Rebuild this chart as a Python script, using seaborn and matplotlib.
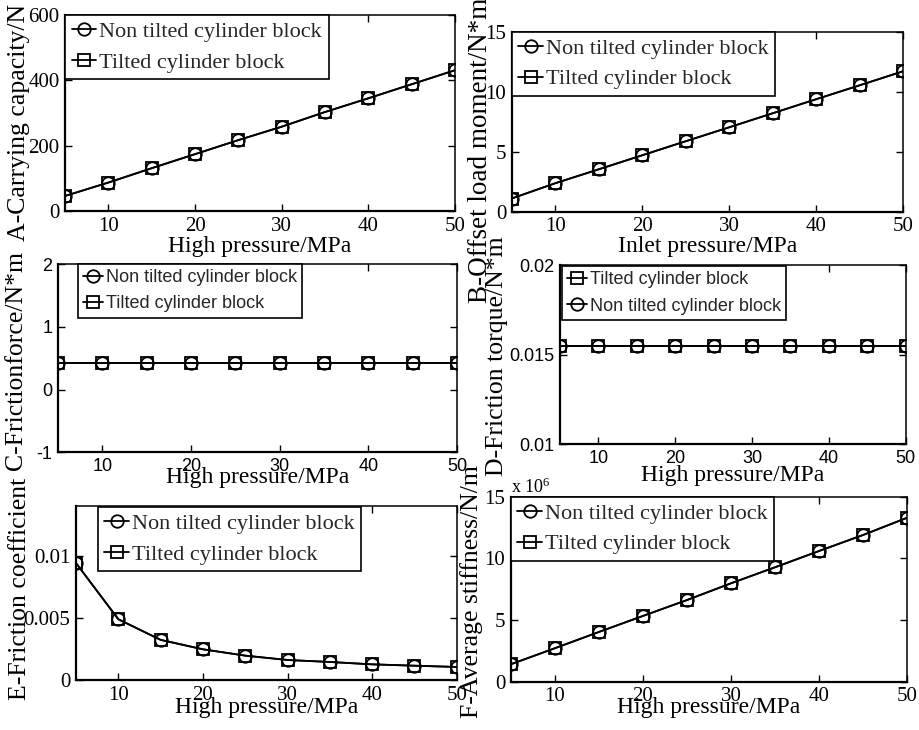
import numpy as np
import pandas as pd
import matplotlib
matplotlib.use("Agg")
import matplotlib.pyplot as plt
import matplotlib.transforms as mtransforms
from matplotlib.ticker import FuncFormatter, FixedLocator
import seaborn as sns

# ---- data -------------------------------------------------------------
pressure = [5, 10, 15, 20, 25, 30, 35, 40, 45, 50]  # MPa

capacity_non_tilted = [46, 87, 131, 174, 217, 258, 303, 345, 388, 431]
capacity_tilted = [46, 87, 131, 174, 217, 258, 303, 345, 388, 431]

moment_non_tilted = [1.10, 2.37, 3.53, 4.70, 5.87, 7.03, 8.20, 9.37, 10.53, 11.70]
moment_tilted = [1.10, 2.37, 3.53, 4.70, 5.87, 7.03, 8.20, 9.37, 10.53, 11.70]

friction_force_non_tilted = [0.425, 0.425, 0.425, 0.425, 0.425, 0.425, 0.425, 0.425, 0.425, 0.425]
friction_force_tilted = [0.425, 0.425, 0.425, 0.425, 0.425, 0.425, 0.425, 0.425, 0.425, 0.425]

friction_torque_non_tilted = [0.0155, 0.0155, 0.0155, 0.0155, 0.0155, 0.0155, 0.0155, 0.0155, 0.0155, 0.0155]
friction_torque_tilted = [0.0155, 0.0155, 0.0155, 0.0155, 0.0155, 0.0155, 0.0155, 0.0155, 0.0155, 0.0155]

friction_coef_non_tilted = [0.00941, 0.00489, 0.00323, 0.00247, 0.00196, 0.00161, 0.00145, 0.00126, 0.00115, 0.00105]
friction_coef_tilted = [0.00941, 0.00489, 0.00323, 0.00247, 0.00196, 0.00161, 0.00145, 0.00126, 0.00115, 0.00105]

stiffness_non_tilted = [1.41e6, 2.71e6, 4.03e6, 5.33e6, 6.62e6, 7.98e6, 9.28e6, 10.60e6, 11.90e6, 13.30e6]
stiffness_tilted = [1.41e6, 2.71e6, 4.03e6, 5.33e6, 6.62e6, 7.98e6, 9.28e6, 10.60e6, 11.90e6, 13.30e6]

label_non = "Non tilted cylinder block"
label_tilt = "Tilted cylinder block"

# ---- style ------------------------------------------------------------
sns.set_theme(style="ticks")
SERIF = ["Liberation Serif", "DejaVu Serif"]
SANS = ["Liberation Sans", "DejaVu Sans"]
plt.rcParams["font.family"] = SERIF
plt.rcParams["mathtext.fontset"] = "custom"
plt.rcParams["mathtext.rm"] = "Liberation Serif"
plt.rcParams["mathtext.it"] = "Liberation Serif:italic"

W, H = 919, 730
fig = plt.figure(figsize=(W / 100, H / 100), dpi=100)
fig.patch.set_facecolor("white")


def add_axes_px(left, top, right, bottom):
    return fig.add_axes([left / W, 1 - bottom / H, (right - left) / W, (bottom - top) / H])


def draw_series(ax, y, marker, label):
    df = pd.DataFrame({"p": pressure, "v": y})
    sns.lineplot(data=df, x="p", y="v", ax=ax, color="black", linewidth=1.3,
                 marker=marker, markersize=9, markerfacecolor="none",
                 markeredgecolor="black", markeredgewidth=1.3, label=label,
                 legend=False)


def style_axes(ax, ylim, yticks, yfmt, tickfamily, ticksize):
    ax.set_xlim(5, 50)
    ax.set_ylim(*ylim)
    ax.xaxis.set_major_locator(FixedLocator([10, 20, 30, 40, 50]))
    ax.yaxis.set_major_locator(FixedLocator(yticks))
    ax.xaxis.set_major_formatter(FuncFormatter(lambda v, p: f"{v:g}"))
    ax.yaxis.set_major_formatter(FuncFormatter(yfmt))
    ax.tick_params(direction="in", length=5, width=1, top=True, right=True,
                   labelsize=ticksize, pad=4, colors="black")
    for lab in ax.get_xticklabels() + ax.get_yticklabels():
        lab.set_family(tickfamily)
    for side, s in ax.spines.items():
        s.set_linewidth(1.6 if side in ("left", "bottom") else 1.1)
        s.set_color("black")
    ax.set_facecolor("white")


def set_labels(ax, xlabel, xlabel_y_px, ylabel, ylabel_x_px, ylabel_y_px, ysize=18.5):
    ax.set_xlabel(xlabel, fontsize=17, family=SERIF, color="black")
    ax.set_ylabel(ylabel, fontsize=ysize, family=SERIF, color="black")
    tx = mtransforms.blended_transform_factory(ax.transAxes, fig.transFigure)
    ax.xaxis.set_label_coords(0.5, 1 - xlabel_y_px / H, transform=tx)
    ax.xaxis.label.set_va("center")
    ax.yaxis.set_label_coords(ylabel_x_px / W, 1 - ylabel_y_px / H, transform=fig.transFigure)
    ax.yaxis.label.set_va("center")
    ax.yaxis.label.set_ha("center")


def add_legend(ax, order, anchor, family, size, spacing):
    handles, labels = ax.get_legend_handles_labels()
    lookup = dict(zip(labels, handles))
    leg = ax.legend([lookup[k] for k in order], order, loc="upper left",
                    bbox_to_anchor=anchor, bbox_transform=ax.transAxes,
                    frameon=True, fancybox=False, shadow=False, framealpha=1,
                    edgecolor="black", borderaxespad=0, borderpad=0.3,
                    handlelength=1.1, handletextpad=0.15, labelspacing=spacing,
                    prop={"family": family, "size": size})
    leg.get_frame().set_linewidth(1.2)


fmt_g = lambda v, p: f"{v:g}"

# ---- A: carrying capacity ---------------------------------------------
axA = add_axes_px(65, 15, 455, 211)
draw_series(axA, capacity_non_tilted, "o", label_non)
draw_series(axA, capacity_tilted, "s", label_tilt)
style_axes(axA, (0, 600), [0, 200, 400, 600], fmt_g, SERIF, 15)
set_labels(axA, "High pressure/MPa", 246, "A-Carrying capacity/N", 19, 122)
add_legend(axA, [label_non, label_tilt], (0, 1), SERIF, 16, 0.45)

# ---- B: offset load moment --------------------------------------------
axB = add_axes_px(511.7, 31.7, 903, 211.7)
draw_series(axB, moment_non_tilted, "o", label_non)
draw_series(axB, moment_tilted, "s", label_tilt)
style_axes(axB, (0, 15), [0, 5, 10, 15], fmt_g, SERIF, 15)
set_labels(axB, "Inlet pressure/MPa", 246, "B-Offset load moment/N*m", 480, 150, ysize=19.5)
add_legend(axB, [label_non, label_tilt], (0, 1), SERIF, 16, 0.45)

# ---- C: friction force ------------------------------------------------
axC = add_axes_px(58, 264, 457, 452.3)
draw_series(axC, friction_force_non_tilted, "o", label_non)
draw_series(axC, friction_force_tilted, "s", label_tilt)
style_axes(axC, (-1, 2), [-1, 0, 1, 2], fmt_g, SANS, 13)
set_labels(axC, "High pressure/MPa", 478, "C-Frictionforce/N*m", 16, 360)
add_legend(axC, [label_non, label_tilt], (0.05, 1), SANS, 13, 0.5)

# ---- D: friction torque -----------------------------------------------
axD = add_axes_px(560, 265, 905.7, 444)
draw_series(axD, friction_torque_non_tilted, "o", label_non)
draw_series(axD, friction_torque_tilted, "s", label_tilt)
style_axes(axD, (0.01, 0.02), [0.01, 0.015, 0.02], fmt_g, SANS, 13)
set_labels(axD, "High pressure/MPa", 475, "D-Friction torque/N*m", 497, 356)
add_legend(axD, [label_tilt, label_non], (0.005, 0.994), SANS, 13, 0.5)

# ---- E: friction coefficient ------------------------------------------
axE = add_axes_px(76, 506, 456.7, 680)
draw_series(axE, friction_coef_non_tilted, "o", label_non)
draw_series(axE, friction_coef_tilted, "s", label_tilt)
style_axes(axE, (0, 0.014), [0, 0.005, 0.01], fmt_g, SERIF, 15)
set_labels(axE, "High pressure/MPa", 707, "E-Friction coefficient", 20, 589)
add_legend(axE, [label_non, label_tilt], (0.057, 0.994), SERIF, 16, 0.45)

# ---- F: average stiffness ---------------------------------------------
axF = add_axes_px(510.7, 496.7, 907.3, 681.7)
draw_series(axF, stiffness_non_tilted, "o", label_non)
draw_series(axF, stiffness_tilted, "s", label_tilt)
style_axes(axF, (0, 15e6), [0, 5e6, 10e6, 15e6], lambda v, p: f"{v / 1e6:g}", SERIF, 15)
set_labels(axF, "High pressure/MPa", 707, "F-Average stiffness/N/m", 472, 592)
add_legend(axF, [label_non, label_tilt], (0, 1), SERIF, 16, 0.45)
axF.text(0.0, 1.0, r"x 10$^{6}$", transform=axF.transAxes, ha="left", va="bottom",
         fontsize=13, family=SERIF, color="black")

fig.savefig("out.png", dpi=100, facecolor="white")
